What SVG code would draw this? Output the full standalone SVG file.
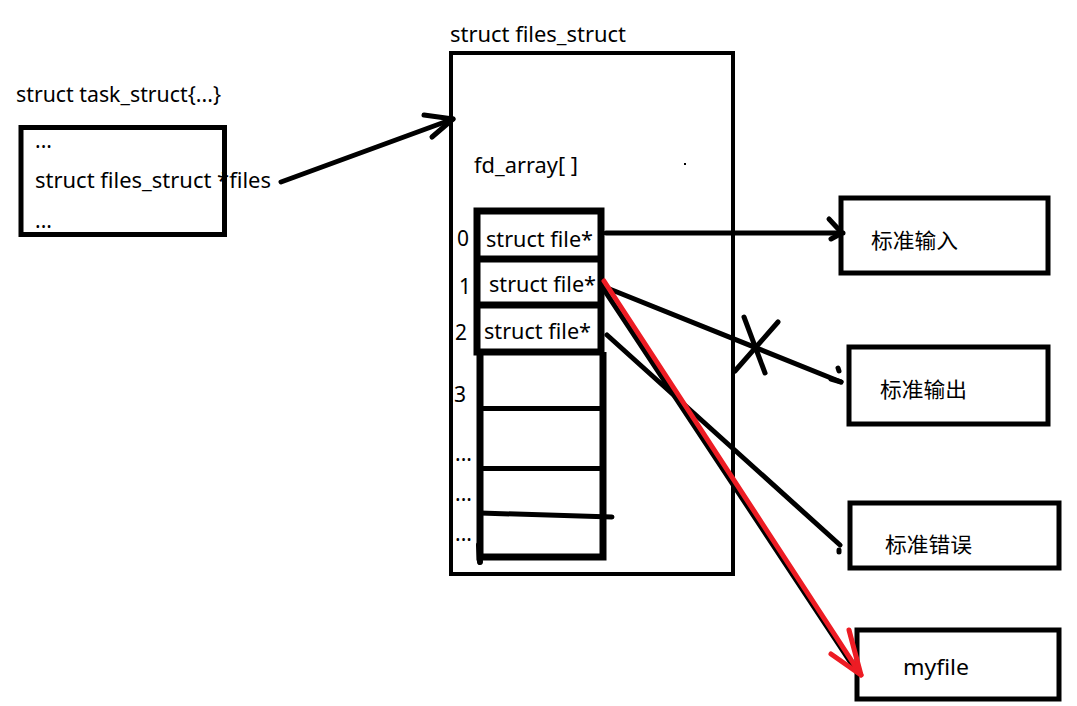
<svg xmlns="http://www.w3.org/2000/svg" width="1077" height="706" viewBox="0 0 1077 706">
<defs>
<style>
.t{font-family:"Noto Sans","Liberation Sans","Noto Sans CJK SC",sans-serif;font-size:21px;fill:#000}
.c{font-family:"Noto Sans CJK SC","Noto Sans",sans-serif;font-size:21px;fill:#000}
.box{fill:none;stroke:#000;stroke-width:5}
.cell{fill:none;stroke:#000;stroke-width:7}
.ln{fill:none;stroke:#000;stroke-width:5;stroke-linecap:round;stroke-linejoin:round}
.red{fill:none;stroke:#ED1C24;stroke-width:5;stroke-linecap:round;stroke-linejoin:round}
</style>
</defs>
<rect width="1077" height="706" fill="#fff"/>

<g id="task_struct">
<text class="t" x="16" y="102" textLength="205" lengthAdjust="spacingAndGlyphs">struct task_struct{...}</text>
<text class="t" x="35" y="148">...</text>
<text class="t" x="35" y="188" textLength="236" lengthAdjust="spacingAndGlyphs">struct files_struct *files</text>
<text class="t" x="35" y="228">...</text>
<rect class="box" x="21" y="127.5" width="203.5" height="107"/>
</g>

<g id="files_struct">
<text class="t" x="450" y="42" textLength="176" lengthAdjust="spacingAndGlyphs">struct files_struct</text>
<rect x="451" y="53" width="282" height="521" fill="none" stroke="#000" stroke-width="4"/>
<text class="t" x="474" y="173" textLength="104" lengthAdjust="spacingAndGlyphs">fd_array[ ]</text>
<rect x="684" y="163" width="2" height="2" fill="#000"/>
</g>

<g id="fd_array">
<rect class="cell" x="477" y="211" width="124" height="141"/>
<line class="cell" x1="477" y1="259" x2="601" y2="259"/>
<line class="cell" x1="477" y1="305" x2="601" y2="305"/>
<path class="cell" d="M480 352 V557 H603 V352"/>
<line x1="480" y1="408.5" x2="603" y2="408.5" stroke="#000" stroke-width="5"/>
<line x1="480" y1="468.5" x2="603" y2="468.5" stroke="#000" stroke-width="5"/>
<line x1="480" y1="513" x2="612" y2="517" stroke="#000" stroke-width="5" stroke-linecap="round"/>
<line x1="479" y1="545" x2="480" y2="562" stroke="#000" stroke-width="6" stroke-linecap="round"/>
<text class="t" x="486" y="247" textLength="107" lengthAdjust="spacingAndGlyphs">struct file*</text>
<text class="t" x="489" y="292" textLength="107" lengthAdjust="spacingAndGlyphs">struct file*</text>
<text class="t" x="484" y="339" textLength="107" lengthAdjust="spacingAndGlyphs">struct file*</text>
<text class="t" x="457" y="246">0</text>
<text class="t" x="459" y="294">1</text>
<text class="t" x="455" y="340">2</text>
<text class="t" x="454" y="402">3</text>
<text class="t" x="455" y="461">...</text>
<text class="t" x="455" y="501">...</text>
<text class="t" x="455" y="541">...</text>
</g>

<g id="stdin">
<rect class="box" x="841" y="198" width="207" height="75"/>
<text class="c" x="871" y="248" textLength="87" lengthAdjust="spacingAndGlyphs">标准输入</text>
</g>
<g id="stdout">
<rect class="box" x="849" y="347" width="199" height="77"/>
<text class="c" x="880" y="397" textLength="87" lengthAdjust="spacingAndGlyphs">标准输出</text>
</g>
<g id="stderr">
<rect class="box" x="850" y="503" width="209" height="65"/>
<text class="c" x="885" y="552" textLength="87" lengthAdjust="spacingAndGlyphs">标准错误</text>
</g>
<g id="myfile">
<rect class="box" x="857" y="630" width="202" height="69"/>
<text class="t" x="903" y="675" textLength="66" lengthAdjust="spacingAndGlyphs">myfile</text>
</g>

<g id="connectors">
<path class="ln" d="M281 182 L453 119"/>
<path class="ln" d="M424 115 L453 119 L432 137"/>
<path class="ln" d="M606 233 L843 233"/>
<path class="ln" d="M829 219 L842 233 L831 239"/>
<path class="ln" d="M607 288 L841 382"/>
<path class="ln" d="M838 368 L839 371"/>
<path class="ln" d="M831 379 L841 382"/>
<path class="ln" d="M744 317 L765 373"/>
<path class="ln" d="M778 322 L735 371"/>
<path class="ln" d="M607 335 L840 545"/>
<path class="ln" d="M839 550 L839 552"/>
<path class="ln" d="M601 285 L857 672"/>
<path class="red" d="M604 281 L861 675"/>
<path class="red" d="M849 630 L861 675 L831 654"/>
</g>
</svg>
